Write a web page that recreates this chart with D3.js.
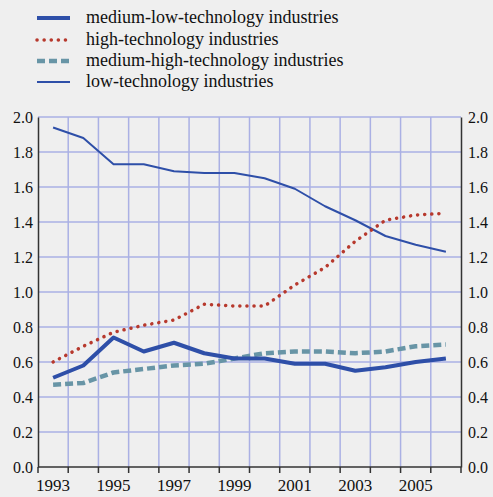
<!DOCTYPE html>
<html lang="en">
<head>
<meta charset="UTF-8">
<title>Industries</title>
<script src="https://cdnjs.cloudflare.com/ajax/libs/d3/7.8.2/d3.min.js"></script>
<style>
  body { margin: 0; background: #efefef; }
  svg { display: block; background: #efefef; }
</style>
</head>
<body>
<div class="container"></div>
<script>
// data
const years = [1993, 1994, 1995, 1996, 1997, 1998, 1999, 2000, 2001, 2002, 2003, 2004, 2005, 2006];
const yearLabels = [1993, 1995, 1997, 1999, 2001, 2003, 2005];
const yTicks = [0, 0.2, 0.4, 0.6, 0.8, 1.0, 1.2, 1.4, 1.6, 1.8, 2.0];

const mediumLow = [0.51, 0.58, 0.74, 0.66, 0.71, 0.65, 0.62, 0.62, 0.59, 0.59, 0.55, 0.57, 0.60, 0.62];
const highTech = [0.60, 0.69, 0.77, 0.81, 0.84, 0.93, 0.92, 0.92, 1.04, 1.14, 1.29, 1.41, 1.44, 1.45];
const mediumHigh = [0.47, 0.48, 0.54, 0.56, 0.58, 0.59, 0.62, 0.65, 0.66, 0.66, 0.65, 0.66, 0.69, 0.70];
const lowTech = [1.94, 1.88, 1.73, 1.73, 1.69, 1.68, 1.68, 1.65, 1.59, 1.49, 1.41, 1.32, 1.27, 1.23];

const seriesNames = ['medium-low-technology industries', 'high-technology industries',
                     'medium-high-technology industries', 'low-technology industries'];

const width = 493, height = 497;
const plotLeft = 38, plotRight = 461, plotTop = 117, plotBottom = 467;
const serif = 'Liberation Serif, DejaVu Serif, serif';

const svg = d3.select('.container').append('svg')
  .attr('width', width).attr('height', height);

const x = d3.scaleBand().domain(years).range([plotLeft, plotRight]);
const y = d3.scaleLinear().domain([0, 2]).range([plotBottom, plotTop]);

// grid
const grid = svg.append('g');
grid.selectAll('line.h').data(yTicks.slice(1)).enter().append('line')
  .attr('x1', plotLeft).attr('x2', plotRight)
  .attr('y1', d => y(d)).attr('y2', d => y(d))
  .attr('stroke', '#aab0e4').attr('stroke-width', 1.5);
grid.selectAll('line.v').data(years.slice(1)).enter().append('line')
  .attr('x1', d => x(d)).attr('x2', d => x(d))
  .attr('y1', plotTop).attr('y2', plotBottom)
  .attr('stroke', '#aab0e4').attr('stroke-width', 1.5);

// axes
const yLeft = d3.axisLeft(y).tickValues(yTicks).tickFormat(d3.format('.1f')).tickSize(0).tickPadding(5);
const yRight = d3.axisRight(y).tickValues(yTicks).tickFormat(d3.format('.1f')).tickSize(0).tickPadding(7);

const gl = svg.append('g').attr('transform', `translate(${plotLeft},0)`).call(yLeft);
const gr = svg.append('g').attr('transform', `translate(${plotRight},0)`).call(yRight);
[gl, gr].forEach(g => {
  g.attr('font-family', serif).attr('font-size', 16);
  g.select('.domain').attr('stroke', '#333').attr('stroke-width', 1.5);
  g.selectAll('text').attr('fill', '#111');
});

// bottom axis: line + ticks at band edges
const bx = svg.append('g').attr('font-family', serif);
bx.append('line').attr('x1', plotLeft).attr('x2', plotRight).attr('y1', plotBottom).attr('y2', plotBottom)
  .attr('stroke', '#333').attr('stroke-width', 1.5);
bx.selectAll('line.tk').data(years.concat([null])).enter().append('line')
  .attr('x1', (d, i) => i < years.length ? x(d) : plotRight)
  .attr('x2', (d, i) => i < years.length ? x(d) : plotRight)
  .attr('y1', plotBottom).attr('y2', plotBottom + 6)
  .attr('stroke', '#333').attr('stroke-width', 1.5);
bx.selectAll('text').data(yearLabels).enter().append('text')
  .attr('x', d => x(d) + x.bandwidth() / 2)
  .attr('y', plotBottom + 24)
  .attr('text-anchor', 'middle')
  .attr('font-size', 17).attr('fill', '#111')
  .text(d => d);

// lines
const cx = d => x(d) + x.bandwidth() / 2;
const lineGen = vals => d3.line().x((d, i) => cx(years[i])).y(d => y(d))(vals);

const styles = [
  { data: mediumLow, stroke: '#2e4fa8', width: 4, dash: null, cap: 'butt' },
  { data: highTech, stroke: '#b7392d', width: 3.5, dash: '0.1,7', cap: 'round' },
  { data: mediumHigh, stroke: '#6895a6', width: 4.5, dash: '8,4', cap: 'butt' },
  { data: lowTech, stroke: '#2e4fa8', width: 2, dash: null, cap: 'butt' }
];

const drawOrder = [3, 2, 0, 1];
drawOrder.forEach(k => {
  const s = styles[k];
  svg.append('path')
    .attr('d', lineGen(s.data))
    .attr('fill', 'none')
    .attr('stroke', s.stroke)
    .attr('stroke-width', s.width)
    .attr('stroke-dasharray', s.dash)
    .attr('stroke-linecap', s.cap)
    .attr('stroke-linejoin', 'round');
});

// legend
const legend = svg.append('g').attr('font-family', serif);
const legendY = [18, 40, 61, 82];
seriesNames.forEach((name, i) => {
  const s = styles[i];
  legend.append('line')
    .attr('x1', 37).attr('x2', 70).attr('y1', legendY[i]).attr('y2', legendY[i])
    .attr('stroke', s.stroke)
    .attr('stroke-width', s.width)
    .attr('stroke-dasharray', s.dash)
    .attr('stroke-linecap', s.cap);
  legend.append('text')
    .attr('x', 86).attr('y', legendY[i] + 5)
    .attr('font-size', 18).attr('fill', '#111')
    .text(name);
});
</script>
</body>
</html>
